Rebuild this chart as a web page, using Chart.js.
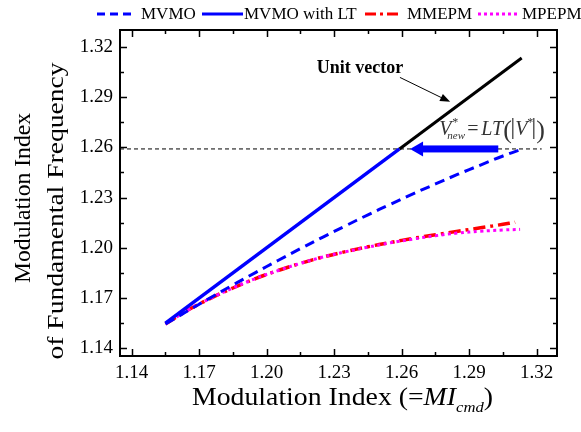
<!DOCTYPE html>
<html><head><meta charset="utf-8">
<script src="https://cdn.jsdelivr.net/npm/chart.js@4/dist/chart.umd.min.js"></script>
<style>html,body{margin:0;padding:0;background:#fff}</style>
</head><body>
<canvas id="c" width="581" height="432"></canvas>
<script>
// ---------- data ----------
const xTicks = [1.14, 1.17, 1.20, 1.23, 1.26, 1.29, 1.32];
const yTicks = [1.14, 1.17, 1.20, 1.23, 1.26, 1.29, 1.32];

const mvmoX = [1.155, 1.165, 1.175, 1.185, 1.195, 1.205, 1.215, 1.225, 1.235, 1.245, 1.255, 1.265, 1.275, 1.285, 1.295, 1.305, 1.3133];
const mvmoY = [1.1545, 1.1624, 1.1702, 1.1778, 1.1852, 1.1924, 1.1995, 1.2064, 1.2131, 1.2197, 1.2260, 1.2322, 1.2381, 1.2439, 1.2494, 1.2548, 1.2588];

const ltX = [1.155, 1.259];
const ltY = [1.155, 1.259];

const unitX = [1.259, 1.3133];
const unitY = [1.259, 1.3133];

const mmepmX = [1.155, 1.165, 1.175, 1.185, 1.195, 1.205, 1.215, 1.225, 1.235, 1.245, 1.255, 1.265, 1.275, 1.285, 1.295, 1.305, 1.3104];
const mmepmY = [1.1545, 1.1628, 1.1698, 1.1760, 1.1816, 1.1864, 1.1907, 1.1945, 1.1977, 1.2006, 1.2032, 1.2056, 1.2078, 1.2099, 1.2119, 1.2140, 1.2152];

const mpepmX = [1.155, 1.165, 1.175, 1.185, 1.195, 1.205, 1.215, 1.225, 1.235, 1.245, 1.255, 1.265, 1.275, 1.285, 1.295, 1.305, 1.3126];
const mpepmY = [1.1545, 1.1628, 1.1698, 1.1760, 1.1816, 1.1864, 1.1907, 1.1945, 1.1976, 1.2004, 1.2030, 1.2052, 1.2072, 1.2088, 1.2099, 1.2106, 1.2110];

const refX = [1.1348, 1.3222];
const refY = [1.259, 1.259];

const arrowTailX = 1.3029, arrowTipX = 1.2637, arrowY = 1.259;
const unitLabelAt = [1.2222, 1.3041];
const unitArrowFrom = [1.2592, 1.3017];
const unitArrowTo = [1.2815, 1.2871];
const formulaAt = [1.2767, 1.2673];

const xMin = 1.1348, xMax = 1.329, yMin = 1.1354, yMax = 1.3300;

const pts = (xs, ys) => xs.map((v, i) => ({x: v, y: ys[i]}));
const SERIF = '"Liberation Serif", "Times New Roman", serif';

const datasets = [
  {label: 'MVMO', data: pts(mvmoX, mvmoY), borderColor: '#0000FF', borderWidth: 3, borderDash: [10, 6], tension: 0.4, order: 3, legend: true, legendDash: [8, 5]},
  {label: 'MVMO with LT', data: pts(ltX, ltY), borderColor: '#0000FF', borderWidth: 3.5, tension: 0, order: 1, legend: true, legendDash: []},
  {label: 'MMEPM', data: pts(mmepmX, mmepmY), borderColor: '#FF0000', borderWidth: 3.5, borderDash: [12, 5, 3, 5], tension: 0.4, order: 5, legend: true, legendDash: [11, 4, 3, 4]},
  {label: 'MPEPM', data: pts(mpepmX, mpepmY), borderColor: '#FF00FF', borderWidth: 3, borderDash: [3, 3.5], tension: 0.4, order: 4, legend: true, legendDash: [3, 3]},
  {label: 'Unit vector', data: pts(unitX, unitY), borderColor: '#000000', borderWidth: 3, tension: 0, order: 2, legend: false},
  {label: 'ref', data: pts(refX, refY), borderColor: '#000000', borderWidth: 1, borderDash: [4, 3], tension: 0, order: 6, legend: false}
];
datasets.forEach(d => { d.pointRadius = 0; d.fill = false; d.showLine = true; });

const legendPos = [[97, 132, 141], [202, 243, 244], [365, 400, 407], [478, 517, 522]];

function fitText(ctx, text, x, y, width) {
  const w = ctx.measureText(text).width;
  ctx.save(); ctx.translate(x, y); ctx.scale(width / w, 1);
  ctx.fillText(text, 0, 0); ctx.restore();
}

const deco = {
  id: 'deco',
  afterDatasetsDraw(chart) {
    const {ctx, scales: {x, y}} = chart;
    ctx.save();
    // blue thick arrow
    const tx = x.getPixelForValue(arrowTipX), sx = x.getPixelForValue(arrowTailX), ay = y.getPixelForValue(arrowY);
    ctx.fillStyle = '#0000FF';
    ctx.fillRect(tx + 11, ay - 3.5, sx - tx - 11, 7);
    ctx.beginPath();
    ctx.moveTo(tx, ay); ctx.lineTo(tx + 13, ay - 7.5); ctx.lineTo(tx + 13, ay + 7.5); ctx.closePath(); ctx.fill();

    // unit vector label + arrow
    ctx.fillStyle = '#000';
    ctx.font = 'bold 18px ' + SERIF;
    ctx.textAlign = 'left'; ctx.textBaseline = 'alphabetic';
    ctx.fillText('Unit vector', x.getPixelForValue(unitLabelAt[0]), y.getPixelForValue(unitLabelAt[1]));
    const ax0 = x.getPixelForValue(unitArrowFrom[0]), ay0 = y.getPixelForValue(unitArrowFrom[1]);
    const ax1 = x.getPixelForValue(unitArrowTo[0]), ay1 = y.getPixelForValue(unitArrowTo[1]);
    const ang = Math.atan2(ay1 - ay0, ax1 - ax0);
    ctx.strokeStyle = '#000'; ctx.lineWidth = 1;
    ctx.beginPath(); ctx.moveTo(ax0, ay0); ctx.lineTo(ax1 - 6 * Math.cos(ang), ay1 - 6 * Math.sin(ang)); ctx.stroke();
    ctx.beginPath();
    ctx.moveTo(ax1, ay1);
    ctx.lineTo(ax1 - 10 * Math.cos(ang) + 4 * Math.sin(ang), ay1 - 10 * Math.sin(ang) - 4 * Math.cos(ang));
    ctx.lineTo(ax1 - 10 * Math.cos(ang) - 4 * Math.sin(ang), ay1 - 10 * Math.sin(ang) + 4 * Math.cos(ang));
    ctx.closePath(); ctx.fill();

    // formula  V*_new = LT(|V*|)
    const fx = x.getPixelForValue(formulaAt[0]), fy = y.getPixelForValue(formulaAt[1]);
    ctx.fillStyle = '#333';
    ctx.font = 'italic 20px ' + SERIF; ctx.fillText('V', fx, fy);
    ctx.font = '12px ' + SERIF; ctx.fillText('*', fx + 13, fy - 9);
    ctx.font = 'italic 11px ' + SERIF; ctx.fillText('new', fx + 8, fy + 4);
    ctx.font = '20px ' + SERIF; ctx.fillText('=', fx + 28, fy);
    ctx.font = 'italic 20px ' + SERIF; ctx.fillText('LT', fx + 42, fy);
    ctx.font = '26px ' + SERIF; ctx.fillText('(', fx + 64, fy + 3);
    ctx.font = 'italic 20px ' + SERIF; ctx.fillText('V', fx + 76, fy);
    ctx.font = '12px ' + SERIF; ctx.fillText('*', fx + 88, fy - 9);
    ctx.font = '26px ' + SERIF; ctx.fillText(')', fx + 97, fy + 3);
    ctx.strokeStyle = '#333'; ctx.lineWidth = 1.2;
    ctx.beginPath(); ctx.moveTo(fx + 73.5, fy - 17); ctx.lineTo(fx + 73.5, fy + 4);
    ctx.moveTo(fx + 94.5, fy - 17); ctx.lineTo(fx + 94.5, fy + 4); ctx.stroke();
    ctx.restore();
  },
  afterDraw(chart) {
    const {ctx, chartArea: a, scales: {x, y}} = chart;
    ctx.save();
    // frame
    ctx.strokeStyle = '#000'; ctx.lineWidth = 2;
    ctx.strokeRect(a.left, a.top, a.right - a.left, a.bottom - a.top);
    ctx.lineWidth = 1.5;
    const mid = t => t.slice(1).map((v, i) => (v + t[i]) / 2);
    ctx.beginPath();
    const tickX = (vals, len) => vals.forEach(v => {
      const px = Math.round(x.getPixelForValue(v)) + 0.5;
      ctx.moveTo(px, a.bottom); ctx.lineTo(px, a.bottom - len);
      ctx.moveTo(px, a.top); ctx.lineTo(px, a.top + len);
    });
    const tickY = (vals, len) => vals.forEach(v => {
      const py = Math.round(y.getPixelForValue(v)) + 0.5;
      ctx.moveTo(a.left, py); ctx.lineTo(a.left + len, py);
      ctx.moveTo(a.right, py); ctx.lineTo(a.right - len, py);
    });
    tickX(xTicks, 7); tickX(mid(xTicks), 4);
    tickY(yTicks, 7); tickY(mid(yTicks), 4);
    ctx.stroke();

    // legend
    const items = chart.data.datasets.filter(d => d.legend);
    ctx.textBaseline = 'middle'; ctx.textAlign = 'left';
    ctx.font = '17px ' + SERIF;
    items.forEach((d, i) => {
      const [l0, l1, t0] = legendPos[i];
      ctx.strokeStyle = d.borderColor; ctx.lineWidth = 3;
      ctx.setLineDash(d.legendDash);
      ctx.beginPath(); ctx.moveTo(l0, 14); ctx.lineTo(l1, 14); ctx.stroke();
      ctx.setLineDash([]);
      ctx.fillStyle = '#000';
      ctx.fillText(d.label, t0, 15);
    });

    // x title: Modulation Index (=MI_cmd)
    ctx.textBaseline = 'alphabetic';
    const tctx = document.createElement('canvas').getContext('2d');
    const parts = [['Modulation Index (=', '25px ', 0], ['MI', 'italic 25px ', 0], ['cmd', 'italic 15px ', 7], [')', '25px ', 0]];
    let total = 0;
    parts.forEach(p => { tctx.font = p[1] + SERIF; p.push(tctx.measureText(p[0]).width); total += p[3]; });
    const sc = 301 / total;
    ctx.save(); ctx.translate(192, 405); ctx.scale(sc, 1);
    let cx = 0;
    parts.forEach(p => { ctx.font = p[1] + SERIF; ctx.fillText(p[0], cx, p[2]); cx += p[3]; });
    ctx.restore();

    // y title
    ctx.font = '24px ' + SERIF;
    ctx.textAlign = 'left';
    [['Modulation Index', 30, 198, 170], ['of Fundamental Frequency', 63, 211, 297]].forEach(([t, bx, cy, len]) => {
      ctx.save(); ctx.translate(bx, cy); ctx.rotate(-Math.PI / 2);
      fitText(ctx, t, -len / 2, 0, len); ctx.restore();
    });
    ctx.restore();
  }
};

new Chart(document.getElementById('c'), {
  type: 'line',
  data: {datasets},
  options: {
    responsive: false, animation: false,
    layout: {padding: {left: 0, right: 24, top: 30, bottom: 0}},
    plugins: {legend: {display: false}, tooltip: {enabled: false}},
    scales: {
      x: {
        type: 'linear', min: xMin, max: xMax,
        grid: {display: false, drawTicks: false, tickLength: 0}, border: {display: false},
        afterBuildTicks: s => { s.ticks = xTicks.map(v => ({value: v})); },
        afterFit: s => { s.height = 76; },
        ticks: {color: '#000', font: {family: SERIF, size: 19}, padding: 6, maxRotation: 0, callback: v => v.toFixed(2)}
      },
      y: {
        type: 'linear', min: yMin, max: yMax,
        grid: {display: false, drawTicks: false, tickLength: 0}, border: {display: false},
        afterBuildTicks: s => { s.ticks = yTicks.map(v => ({value: v})); },
        afterFit: s => { s.width = 120; },
        ticks: {color: '#000', font: {family: SERIF, size: 19}, padding: 7, callback: v => v.toFixed(2)}
      }
    }
  },
  plugins: [deco]
});
</script>
</body></html>
